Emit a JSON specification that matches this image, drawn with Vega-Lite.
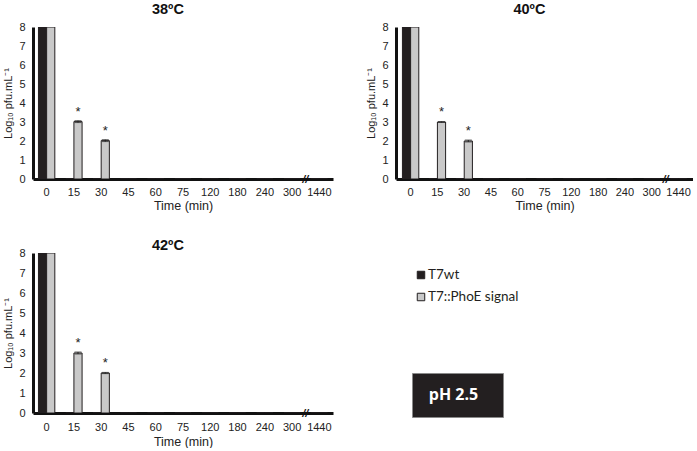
{
  "$schema": "https://vega.github.io/schema/vega-lite/v6.json",
  "padding": {"left": 2, "top": 1, "right": 0, "bottom": 0},
  "spacing": 25,
  "config": {
    "font": "Liberation Sans",
    "view": {"stroke": null},
    "axis": {"labelColor": "#222", "titleColor": "#222", "labelFontSize": 11, "titleFontSize": 12.5, "titleFontWeight": "normal", "ticks": false, "grid": false, "domainColor": "#111", "domainWidth": 3},
    "title": {"fontSize": 14.5, "fontWeight": "bold", "color": "#111", "frame": "bounds"}
  },
  "datasets": {
    "t38": [
      {"time": "0", "strain": "T7wt", "val": 8},
      {"time": "0", "strain": "T7::PhoE signal", "val": 8},
      {"time": "15", "strain": "T7wt", "val": 0},
      {"time": "15", "strain": "T7::PhoE signal", "val": 3.02, "err": 0.05, "sig": "*"},
      {"time": "30", "strain": "T7wt", "val": 0},
      {"time": "30", "strain": "T7::PhoE signal", "val": 2.02, "err": 0.05, "sig": "*"},
      {"time": "45", "strain": "T7wt", "val": 0},
      {"time": "45", "strain": "T7::PhoE signal", "val": 0},
      {"time": "60", "strain": "T7wt", "val": 0},
      {"time": "60", "strain": "T7::PhoE signal", "val": 0},
      {"time": "75", "strain": "T7wt", "val": 0},
      {"time": "75", "strain": "T7::PhoE signal", "val": 0},
      {"time": "120", "strain": "T7wt", "val": 0},
      {"time": "120", "strain": "T7::PhoE signal", "val": 0},
      {"time": "180", "strain": "T7wt", "val": 0},
      {"time": "180", "strain": "T7::PhoE signal", "val": 0},
      {"time": "240", "strain": "T7wt", "val": 0},
      {"time": "240", "strain": "T7::PhoE signal", "val": 0},
      {"time": "300", "strain": "T7wt", "val": 0},
      {"time": "300", "strain": "T7::PhoE signal", "val": 0},
      {"time": "1440", "strain": "T7wt", "val": 0},
      {"time": "1440", "strain": "T7::PhoE signal", "val": 0}
    ],
    "t40": [
      {"time": "0", "strain": "T7wt", "val": 8},
      {"time": "0", "strain": "T7::PhoE signal", "val": 8},
      {"time": "15", "strain": "T7wt", "val": 0},
      {"time": "15", "strain": "T7::PhoE signal", "val": 3.0, "err": 0.02, "sig": "*"},
      {"time": "30", "strain": "T7wt", "val": 0},
      {"time": "30", "strain": "T7::PhoE signal", "val": 2.0, "err": 0.05, "sig": "*"},
      {"time": "45", "strain": "T7wt", "val": 0},
      {"time": "45", "strain": "T7::PhoE signal", "val": 0},
      {"time": "60", "strain": "T7wt", "val": 0},
      {"time": "60", "strain": "T7::PhoE signal", "val": 0},
      {"time": "75", "strain": "T7wt", "val": 0},
      {"time": "75", "strain": "T7::PhoE signal", "val": 0},
      {"time": "120", "strain": "T7wt", "val": 0},
      {"time": "120", "strain": "T7::PhoE signal", "val": 0},
      {"time": "180", "strain": "T7wt", "val": 0},
      {"time": "180", "strain": "T7::PhoE signal", "val": 0},
      {"time": "240", "strain": "T7wt", "val": 0},
      {"time": "240", "strain": "T7::PhoE signal", "val": 0},
      {"time": "300", "strain": "T7wt", "val": 0},
      {"time": "300", "strain": "T7::PhoE signal", "val": 0},
      {"time": "1440", "strain": "T7wt", "val": 0},
      {"time": "1440", "strain": "T7::PhoE signal", "val": 0}
    ],
    "t42": [
      {"time": "0", "strain": "T7wt", "val": 8},
      {"time": "0", "strain": "T7::PhoE signal", "val": 8},
      {"time": "15", "strain": "T7wt", "val": 0},
      {"time": "15", "strain": "T7::PhoE signal", "val": 3.0, "err": 0.05, "sig": "*"},
      {"time": "30", "strain": "T7wt", "val": 0},
      {"time": "30", "strain": "T7::PhoE signal", "val": 2.0, "err": 0.03, "sig": "*"},
      {"time": "45", "strain": "T7wt", "val": 0},
      {"time": "45", "strain": "T7::PhoE signal", "val": 0},
      {"time": "60", "strain": "T7wt", "val": 0},
      {"time": "60", "strain": "T7::PhoE signal", "val": 0},
      {"time": "75", "strain": "T7wt", "val": 0},
      {"time": "75", "strain": "T7::PhoE signal", "val": 0},
      {"time": "120", "strain": "T7wt", "val": 0},
      {"time": "120", "strain": "T7::PhoE signal", "val": 0},
      {"time": "180", "strain": "T7wt", "val": 0},
      {"time": "180", "strain": "T7::PhoE signal", "val": 0},
      {"time": "240", "strain": "T7wt", "val": 0},
      {"time": "240", "strain": "T7::PhoE signal", "val": 0},
      {"time": "300", "strain": "T7wt", "val": 0},
      {"time": "300", "strain": "T7::PhoE signal", "val": 0},
      {"time": "1440", "strain": "T7wt", "val": 0},
      {"time": "1440", "strain": "T7::PhoE signal", "val": 0}
    ],
    "brk": [{"time": "1440", "val": 0, "mark": "//"}],
    "legend": [{"strain": "T7wt"}, {"strain": "T7::PhoE signal"}],
    "box": [{"label": "pH 2.5"}]
  },
  "vconcat": [
    {
      "hconcat": [
        {
          "width": 300, "height": 152,
          "title": {"text": "38ºC", "offset": 4},
          "data": {"name": "t38"},
          "encoding": {
            "x": {"field": "time", "type": "nominal", "scale": {"domain": ["0","15","30","45","60","75","120","180","240","300","1440"], "paddingInner": 0.4, "paddingOuter": 0.2}, "axis": {"labelAngle": 0, "labelPadding": 7, "title": "Time (min)", "titlePadding": 2}},
            "y": {"field": "val", "type": "quantitative", "scale": {"domain": [0, 8]}, "title": "Log₁₀ pfu.mL⁻¹", "axis": {"values": [0,1,2,3,4,5,6,7,8], "labelPadding": 8, "titleFontSize": 11, "titlePadding": 5, "labelOverlap": false}}
          },
          "layer": [
            {
              "mark": {"type": "bar", "stroke": "#231f20", "strokeWidth": 1, "clip": true},
              "encoding": {
                "xOffset": {"field": "strain", "type": "nominal", "scale": {"domain": ["T7wt", "T7::PhoE signal"]}},
                "color": {"field": "strain", "type": "nominal", "scale": {"domain": ["T7wt", "T7::PhoE signal"], "range": ["#231f20", "#c9c9c9"]}, "legend": null}
              }
            },
            {
              "transform": [{"filter": "isValid(datum.err)"}],
              "mark": {"type": "errorbar", "ticks": {"size": 7, "color": "#222"}, "color": "#222"},
              "encoding": {
                "xOffset": {"field": "strain", "type": "nominal"},
                "yError": {"field": "err"}
              }
            },
            {
              "transform": [{"filter": "isValid(datum.sig)"}],
              "mark": {"type": "text", "baseline": "alphabetic", "dy": -6, "fontSize": 13, "fill": "#222"},
              "encoding": {
                "xOffset": {"field": "strain", "type": "nominal"},
                "text": {"field": "sig"}
              }
            },
            {
              "data": {"name": "brk"},
              "mark": {"type": "text", "dx": -14, "dy": 1, "fontSize": 11, "fontWeight": "bold", "fontStyle": "italic", "fill": "#111"},
              "encoding": {"text": {"field": "mark"}}
            }
          ]
        },
        {
          "width": 297, "height": 152,
          "title": {"text": "40ºC", "offset": 4},
          "data": {"name": "t40"},
          "encoding": {
            "x": {"field": "time", "type": "nominal", "scale": {"domain": ["0","15","30","45","60","75","120","180","240","300","1440"], "paddingInner": 0.4, "paddingOuter": 0.24}, "axis": {"labelAngle": 0, "labelPadding": 7, "title": "Time (min)", "titlePadding": 2}},
            "y": {"field": "val", "type": "quantitative", "scale": {"domain": [0, 8]}, "title": "Log₁₀ pfu.mL⁻¹", "axis": {"values": [0,1,2,3,4,5,6,7,8], "labelPadding": 8, "titleFontSize": 11, "titlePadding": 5, "labelOverlap": false}}
          },
          "layer": [
            {
              "mark": {"type": "bar", "stroke": "#231f20", "strokeWidth": 1, "clip": true},
              "encoding": {
                "xOffset": {"field": "strain", "type": "nominal", "scale": {"domain": ["T7wt", "T7::PhoE signal"]}},
                "color": {"field": "strain", "type": "nominal", "scale": {"domain": ["T7wt", "T7::PhoE signal"], "range": ["#231f20", "#c9c9c9"]}, "legend": null}
              }
            },
            {
              "transform": [{"filter": "isValid(datum.err)"}],
              "mark": {"type": "errorbar", "ticks": {"size": 7, "color": "#222"}, "color": "#222"},
              "encoding": {
                "xOffset": {"field": "strain", "type": "nominal"},
                "yError": {"field": "err"}
              }
            },
            {
              "transform": [{"filter": "isValid(datum.sig)"}],
              "mark": {"type": "text", "baseline": "alphabetic", "dy": -6, "fontSize": 13, "fill": "#222"},
              "encoding": {
                "xOffset": {"field": "strain", "type": "nominal"},
                "text": {"field": "sig"}
              }
            },
            {
              "data": {"name": "brk"},
              "mark": {"type": "text", "dx": -13, "dy": 1, "fontSize": 11, "fontWeight": "bold", "fontStyle": "italic", "fill": "#111"},
              "encoding": {"text": {"field": "mark"}}
            }
          ]
        }
      ],
      "spacing": 32
    },
    {
      "hconcat": [
        {
          "width": 300, "height": 160,
          "title": {"text": "42ºC", "offset": -6},
          "data": {"name": "t42"},
          "encoding": {
            "x": {"field": "time", "type": "nominal", "scale": {"domain": ["0","15","30","45","60","75","120","180","240","300","1440"], "paddingInner": 0.4, "paddingOuter": 0.2}, "axis": {"labelAngle": 0, "labelPadding": 8, "title": "Time (min)", "titlePadding": 3}},
            "y": {"field": "val", "type": "quantitative", "scale": {"domain": [0, 8]}, "title": "Log₁₀ pfu.mL⁻¹", "axis": {"values": [0,1,2,3,4,5,6,7,8], "labelPadding": 8, "titleFontSize": 11, "titlePadding": 5, "labelOverlap": false}}
          },
          "layer": [
            {
              "mark": {"type": "bar", "stroke": "#231f20", "strokeWidth": 1, "clip": true},
              "encoding": {
                "xOffset": {"field": "strain", "type": "nominal", "scale": {"domain": ["T7wt", "T7::PhoE signal"]}},
                "color": {"field": "strain", "type": "nominal", "scale": {"domain": ["T7wt", "T7::PhoE signal"], "range": ["#231f20", "#c9c9c9"]}, "legend": null}
              }
            },
            {
              "transform": [{"filter": "isValid(datum.err)"}],
              "mark": {"type": "errorbar", "ticks": {"size": 7, "color": "#222"}, "color": "#222"},
              "encoding": {
                "xOffset": {"field": "strain", "type": "nominal"},
                "yError": {"field": "err"}
              }
            },
            {
              "transform": [{"filter": "isValid(datum.sig)"}],
              "mark": {"type": "text", "baseline": "alphabetic", "dy": -6, "fontSize": 13, "fill": "#222"},
              "encoding": {
                "xOffset": {"field": "strain", "type": "nominal"},
                "text": {"field": "sig"}
              }
            },
            {
              "data": {"name": "brk"},
              "mark": {"type": "text", "dx": -14, "dy": 1, "fontSize": 11, "fontWeight": "bold", "fontStyle": "italic", "fill": "#111"},
              "encoding": {"text": {"field": "mark"}}
            }
          ]
        },
        {
          "vconcat": [
            {
              "width": 18, "height": 66,
              "data": {"name": "legend"},
              "encoding": {
                "y": {"field": "strain", "type": "nominal", "sort": null, "scale": {"type": "point", "padding": 1.14}, "axis": null}
              },
              "layer": [
                {
                  "mark": {"type": "square", "size": 56, "filled": true, "opacity": 1, "stroke": "#231f20", "strokeWidth": 1},
                  "encoding": {"color": {"field": "strain", "type": "nominal", "scale": {"domain": ["T7wt", "T7::PhoE signal"], "range": ["#231f20", "#c9c9c9"]}, "legend": null}}
                },
                {
                  "mark": {"type": "text", "align": "left", "dx": 7, "fontSize": 13.5, "font": "Lato", "fill": "#231f20"},
                  "encoding": {"text": {"field": "strain"}}
                }
              ]
            },
            {
              "width": 91, "height": 44,
              "view": {"fill": "#231f20", "stroke": "#8a8a8a"},
              "data": {"name": "box"},
              "mark": {"type": "text", "fill": "#ffffff", "fontSize": 16, "fontWeight": "bold", "font": "Open Sans", "dx": -4},
              "encoding": {"text": {"field": "label"}}
            }
          ],
          "spacing": 53
        }
      ],
      "spacing": 78
    }
  ]
}
